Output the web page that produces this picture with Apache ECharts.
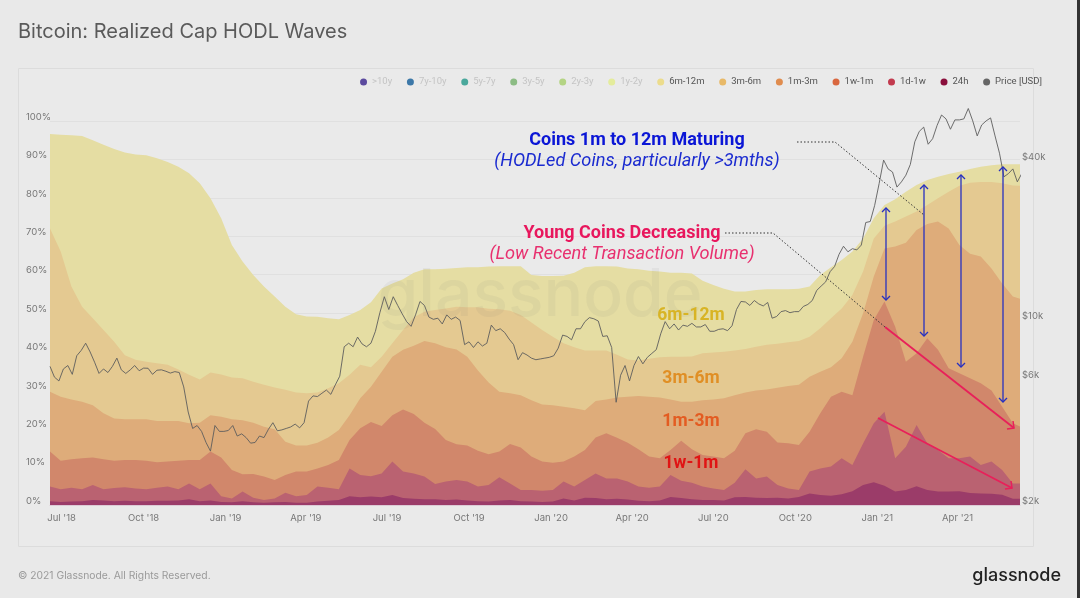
<!DOCTYPE html>
<html>
<head>
  <meta charset="utf-8">
  <title>Bitcoin: Realized Cap HODL Waves</title>
  <script src="https://cdn.jsdelivr.net/npm/echarts@6/dist/echarts.min.js"></script>
  <style>
    html, body { margin: 0; padding: 0; background: #e9e9e9; }
    #main { width: 1080px; height: 598px; }
  </style>
</head>
<body>
<div id="main"></div>
<script type="text/javascript">
// upper edge of each wave in %, one value every 12 days from the start date
var top6m12m = [96.6,96.4,96.3,96.1,95,93.8,92.7,91.8,91.3,91.1,90.3,89.3,88.1,86.4,83.8,79.9,74.7,67.7,63.4,59.9,56.9,54.3,51.6,49.7,49.1,49,48.6,48.4,49.5,50.8,52.8,
  56.4,57.7,58.8,60.5,61.4,61.4,61.5,61.7,61.9,61.9,62.1,62.2,62.2,62.2,59.9,59.6,59.6,59.7,60.5,61.9,62.2,62.2,62.1,61.6,61.4,61,60.8,60.5,60.5,60.3,
  58.4,57.3,56.3,55.6,55.6,56,56.2,56.2,56.2,56.3,56.9,59.9,61.9,63.8,66,69.4,74.7,78.1,79.6,81.6,83.3,84.6,85.5,86.2,86.8,87.5,88.1,88.5,88.7,88.7,88.7];
var top3m6m = [72,66,56.9,51.6,48.6,45.6,42.5,39,37.8,37.3,36.9,36.5,35.3,33.9,32.7,34.5,34,33.2,33,32.1,31.3,30.6,30,29.3,29.1,29.3,30.4,31.7,33.9,36.5,35.9,
  38.6,42.1,45.6,48.9,50.3,50.8,51.2,51.6,51.5,51.5,51.1,51,50.6,49.5,47.5,45.6,43.8,42.1,41.1,40.2,40.2,40.2,39.1,37.9,37.6,38.1,38.5,38.6,38.6,38.7,
  39.5,39.7,39.9,40.2,40.6,41.2,41.7,42,42.4,42.7,43.8,46,48.6,51.2,54.7,60.8,69.4,72.7,73.8,75.1,76.4,78.1,79.9,81.6,83.1,83.9,84.1,84.1,83.8,83.2,83.1];
var top1m3m = [29.5,28.2,27.5,26.9,26,23.9,22.5,22.3,22.3,22.3,21.9,21.9,21.9,21.3,21.4,23.4,23,22.3,22.1,21.4,20.4,19.7,16.5,15.5,15.5,16.2,17.6,19.5,23.4,27.8,30.8,
  34.7,38.6,40.4,41.5,42.7,42.1,41.1,40.5,38.6,35,31.9,29.5,29.1,28.6,27.3,26.2,26,25.6,25.2,24.7,27.1,27.5,28,28.2,28.4,28.2,28,27.5,26.9,26.9,
  27.3,27.5,27.8,28.6,29.3,29.8,30.1,30.5,31,31.3,33.4,34.7,35.9,38.2,42.5,49.9,59.5,66.8,67.3,68.3,71.6,73.2,73.8,72,67.7,65.4,64.7,61.6,57.7,54.3,53.4];
var top1w1m = [13.9,11.5,11.9,12.2,12.4,11.9,11.5,11.7,11.7,11.5,11.1,11.3,11.5,11.7,11.7,13.9,12.4,9.1,8,8.1,7.4,6.5,7.8,8.7,8.7,9.5,10.4,11.7,16.9,20,21.6,
  20.6,23.4,24.9,23.7,21.4,19.8,16.9,15.8,15.5,14.1,13.2,13.9,15.9,15,12.6,11.3,11,11.3,12.6,14.3,17.6,18.7,17.5,16.2,14.5,12.6,12.2,14.3,16.7,14.5,
  13,12.6,12.2,14.1,18.7,19.7,19.1,16.3,16.1,15.6,19.1,23.9,28.2,29.5,28.6,38.6,48.2,53,46.4,37.3,39.5,43.4,40.4,35.6,34.3,33,31.7,29.8,25.6,21.3,20];
var top1d1w = [4.8,4.1,4.5,4.1,5.2,4.1,4.4,4.6,4.3,4.1,4.5,4.8,4.1,5.6,4.1,5.6,2.3,1.7,3.5,1.9,1.3,1.7,3.2,2.3,2.6,4.8,4.5,4.1,9.5,7.8,7.5,
  8.2,11.3,8.7,8.2,7.4,5.5,6.1,6.5,6.1,4.8,5.2,7.2,5.6,3.9,3.9,3.7,3.9,6.1,4.8,6.5,8.2,6.9,6.9,6.1,4.8,4.5,4.8,7.8,6.3,5.8,
  4.8,4.3,3.9,5.8,9.3,6.9,7.4,5.2,4.3,3.9,8.7,9.5,10,12.2,10.4,16,21.3,24.3,12.2,15.2,20.8,16.1,14.3,12.2,12.2,12.6,10.4,11.3,9.1,5.6,5.6];
var top24h = [1,0.8,0.9,1,1.3,1.2,1,1.1,1,1,1.1,1.1,1.2,1.5,1,1.2,0.8,0.7,1,0.7,0.6,0.7,0.8,0.6,0.6,0.9,1.1,1.3,2.3,2,2.2,
  2,2.6,1.8,1.6,1.5,1.5,1.3,1.4,1.2,1,0.9,1.2,1.3,1,0.9,0.8,0.9,1.7,1.2,1.9,1.8,1.5,1.6,1.4,1.1,1,1.2,2.1,1.8,1.5,
  1.3,1.3,1.2,2,2.1,1.9,1.8,1.9,1.7,2.1,3,2.6,2.4,2.8,3.6,5.2,5.9,5,3.5,3.9,4.9,3.9,3.5,3.5,3.6,3.1,3,2.9,2.7,1.6,1.6];

// BTC price in USD, one value every 5 days from the start date
var priceUsd = [6700,6100,5900,6550,6750,6250,7350,7700,8200,7600,6950,6300,6550,6350,6700,7200,6500,6300,6500,6750,6450,6600,6590,6250,6480,6500,6420,6320,6400,6350,5600,4500,3900,4000,3800,3450,3200,4000,3800,3800,
  3830,4000,3650,3720,3600,3430,3450,3650,3600,3870,4100,3820,3850,3900,3950,4050,3920,4100,4950,5180,5150,5300,5450,5250,5700,6150,7950,8200,7950,8650,8150,7950,8200,9100,10700,12300,11000,12300,11400,10600,9900,9500,10500,11800,11400,10300,10100,10200,9700,10500,10100,10300,10000,8100,8300,7900,8300,8000,8200,9600,9150,9300,9000,8500,8100,7100,7550,7400,7200,7100,7150,7200,7250,
  7350,7850,8800,8700,8450,9300,9300,9900,10250,10150,9950,8700,8750,7900,4900,6200,6750,5900,6750,7300,6850,7250,7500,7750,8900,9900,9300,9700,9200,9600,9500,9750,9450,9450,9650,9100,9100,9250,9300,9150,9550,11000,11800,11750,11400,11900,11550,11350,11700,10200,10350,10800,10900,10700,10800,10800,11300,11500,11900,13000,13500,14000,15300,16000,17800,19100,18200,18700,18500,19300,23500,23700,27300,
  33000,40500,37500,36500,32000,33500,35500,39000,47500,52000,54000,46500,48800,54800,60000,58000,53000,57500,57500,58000,63500,57000,50000,55000,57000,58500,50000,43000,35000,36000,37500,33500,36000];

var startDate = Date.UTC(2018, 5, 18);
var endDate = Date.UTC(2021, 5, 10);
var day = 86400000;

var xTickDates = [Date.UTC(2018,6,1),Date.UTC(2018,9,1),Date.UTC(2019,0,1),Date.UTC(2019,3,1),Date.UTC(2019,6,1),Date.UTC(2019,9,1),Date.UTC(2020,0,1),Date.UTC(2020,3,1),Date.UTC(2020,6,1),Date.UTC(2020,9,1),Date.UTC(2021,0,1),Date.UTC(2021,3,1)];
var monthNames = ['Jan','Feb','Mar','Apr','May','Jun','Jul','Aug','Sep','Oct','Nov','Dec'];
var priceTicks = [2000,6000,10000,40000];

var hiddenWaves = ['>10y','7y-10y','5y-7y','3y-5y','2y-3y','1y-2y'];
var hiddenDots = ['#5b4a9e','#3c78a8','#4aa89c','#8cbc84','#b4d484','#e4ec9c'];

// waves are drawn tallest first, each one covers the part of the wave behind it
function wave(name, upper, dot, fill, z) {
  return {
    name: name, type: 'line', showSymbol: false, z: z,
    data: upper.map(function (v, i) { return [startDate + i * 12 * day, v]; }),
    itemStyle: { color: dot }, lineStyle: { width: 0 }, areaStyle: { color: fill, opacity: 1 },
    emphasis: { disabled: true }
  };
}

var series = [
  wave('6m-12m', top6m12m, '#ecdc8c', '#e5dda3', 2),
  wave('3m-6m', top3m6m, '#e8b968', '#e4c991', 3),
  wave('1m-3m', top1m3m, '#e08c4e', '#deac7a', 4),
  wave('1w-1m', top1w1m, '#d9673f', '#d1876b', 5),
  wave('1d-1w', top1d1w, '#c23a4e', '#ba6271', 6),
  wave('24h', top24h, '#8a0f3c', '#9b3c69', 7)
];
hiddenWaves.forEach(function (n, i) {
  series.push({ name: n, type: 'line', data: [], itemStyle: { color: hiddenDots[i] } });
});
series.push({
  name: 'Price [USD]', type: 'line', yAxisIndex: 1, showSymbol: false, z: 8,
  data: priceUsd.map(function (v, i) { return [startDate + i * 5 * day, v]; }),
  itemStyle: { color: '#666' }, lineStyle: { color: '#5e5e5e', width: 0.9 }, emphasis: { disabled: true }
});

var legendData = hiddenWaves.map(function (n) {
  return { name: n, textStyle: { color: '#c4c4c4' } };
}).concat(['6m-12m','3m-6m','1m-3m','1w-1m','1d-1w','24h','Price [USD]'].map(function (n) {
  return { name: n, textStyle: { color: '#555' } };
}));

// annotation drawing
function dotted(points) {
  return { type: 'polyline', z: 20, shape: { points: points }, style: { stroke: '#333', lineWidth: 1, lineDash: [1.5, 2], fill: null } };
}
function head(x, y, dir, color) {
  return { type: 'polyline', z: 21, shape: { points: [[x - 4, y + dir * 4], [x, y], [x + 4, y + dir * 4]] }, style: { stroke: color, lineWidth: 1.3, fill: null } };
}
function blueArrow(x, y1, y2) {
  return [
    { type: 'line', z: 21, shape: { x1: x, y1: y1, x2: x, y2: y2 }, style: { stroke: '#2730c0', lineWidth: 1.3 } },
    head(x, y1, 1, '#2730c0'), head(x, y2, -1, '#2730c0')
  ];
}
function redArrow(x1, y1, x2, y2) {
  return [
    { type: 'line', z: 21, shape: { x1: x1, y1: y1, x2: x2, y2: y2 }, style: { stroke: '#e8205a', lineWidth: 1.8 } },
    { type: 'polyline', z: 21, shape: { points: [[x2 - 7, y2 + 1], [x2, y2], [x2 - 1, y2 - 7]] }, style: { stroke: '#e8205a', lineWidth: 1.5, fill: null } }
  ];
}
function label(text, x, y, font, color, align) {
  return { type: 'text', z: 22, style: { text: text, x: x, y: y, font: font, fill: color, textAlign: align || 'center', textVerticalAlign: 'middle' } };
}

var elements = [
  { type: 'rect', z: -1, shape: { x: 18.5, y: 68.5, width: 1015, height: 478 }, style: { fill: '#eaeaea', stroke: '#dcdcdc', lineWidth: 1 } },
  { type: 'rect', z: -1, shape: { x: 1077, y: 0, width: 3, height: 598 }, style: { fill: '#333' } },
  { type: 'text', z: 9, style: { text: 'glassnode', x: 540, y: 296, font: '500 66px Inter, sans-serif', fill: 'rgba(110,110,110,0.07)', textAlign: 'center', textVerticalAlign: 'middle' } },
  dotted([[797, 142], [835, 142], [924, 215]]),
  dotted([[725, 233], [773, 233], [885, 327]]),
  label('Coins 1m to 12m Maturing', 637, 140, 'bold 18px Roboto, sans-serif', '#0b16d6'),
  label('(HODLed Coins, particularly >3mths)', 637, 161, 'italic 18.2px Roboto, sans-serif', '#1b2bd0'),
  label('Young Coins Decreasing', 622, 233, 'bold 18px Roboto, sans-serif', '#e8175d'),
  label('(Low Recent Transaction Volume)', 622, 254, 'italic 18.2px Roboto, sans-serif', '#e8306f'),
  label('6m-12m', 691, 316, 'bold 17.5px Roboto, sans-serif', '#d8b425'),
  label('3m-6m', 691, 379, 'bold 17.5px Roboto, sans-serif', '#e08f25'),
  label('1m-3m', 691, 422, 'bold 17.5px Roboto, sans-serif', '#e35c22'),
  label('1w-1m', 691, 464, 'bold 17.5px Roboto, sans-serif', '#e01414'),
  label('\u00a9 2021 Glassnode. All Rights Reserved.', 18, 576, '10.3px Inter, sans-serif', '#9a9a9a', 'left'),
  label('glassnode', 1061, 576, '500 18px Inter, sans-serif', '#222', 'right')
].concat(
  blueArrow(886, 208, 300), blueArrow(924, 185, 336), blueArrow(961, 175, 367), blueArrow(1003, 167, 402),
  redArrow(885, 327, 1014, 428), redArrow(878, 418, 1012, 488)
);

var myChart = echarts.init(document.getElementById('main'));
var option = {
  animation: false,
  backgroundColor: '#e9e9e9',
  title: {
    text: 'Bitcoin: Realized Cap HODL Waves', left: 18, top: 22, padding: 0,
    textStyle: { color: '#5a5a5a', fontSize: 20, fontWeight: 400, fontFamily: 'Inter, sans-serif' }
  },
  legend: {
    selectedMode: false, icon: 'circle', right: 33, top: 72, itemWidth: 7, itemHeight: 7, itemGap: 14.7,
    textStyle: { fontSize: 9.5, fontFamily: 'Roboto, sans-serif' }, data: legendData
  },
  grid: { left: 50, right: 60, top: 101, bottom: 93 },
  xAxis: {
    type: 'value', min: startDate, max: endDate,
    axisLine: { lineStyle: { color: '#dccbd6' } }, axisTick: { show: false }, splitLine: { show: false },
    axisLabel: {
      customValues: xTickDates, color: '#777', fontSize: 9.5, margin: 8, fontFamily: 'Inter, sans-serif',
      formatter: function (v) {
        var d = new Date(v);
        return monthNames[d.getUTCMonth()] + " '" + String(d.getUTCFullYear()).slice(2);
      }
    }
  },
  yAxis: [{
    type: 'value', min: 0, max: 105.2, interval: 10,
    axisLine: { show: false }, axisTick: { show: false },
    splitLine: { showMaxLine: false, lineStyle: { color: '#e0e0e0' } },
    axisLabel: {
      align: 'left', verticalAlign: 'bottom', lineHeight: 8, margin: 24, color: '#777', fontSize: 9.5, showMaxLabel: false,
      fontFamily: 'Inter, sans-serif', formatter: '{value}%'
    }
  }, {
    type: 'log', logBase: 10, min: 2000, max: 67800, position: 'right',
    axisLine: { show: false }, axisTick: { show: false }, splitLine: { show: false },
    axisLabel: {
      customValues: priceTicks, verticalAlign: 'bottom', lineHeight: 8, margin: 2, color: '#777', fontSize: 9.5,
      fontFamily: 'Inter, sans-serif',
      formatter: function (v) { return '$' + Math.round(v / 1000) + 'k'; }
    }
  }],
  series: series,
  graphic: { elements: elements }
};
myChart.setOption(option);
</script>
</body>
</html>
